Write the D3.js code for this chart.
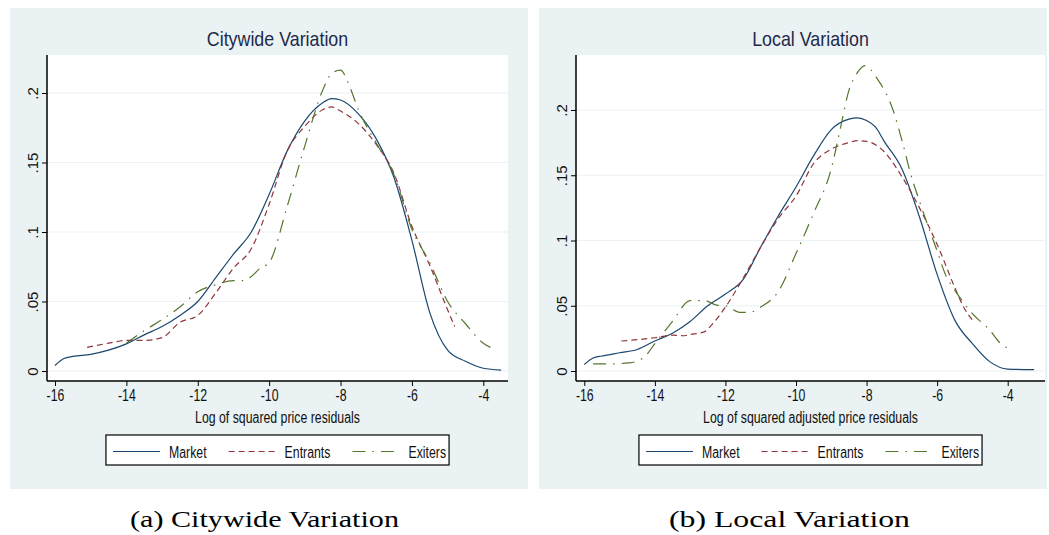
<!DOCTYPE html>
<html>
<head>
<meta charset="utf-8">
<script src="https://cdn.jsdelivr.net/npm/d3@7"></script>
<style>
  body { margin: 0; background: #fff; }
  svg { display: block; }
</style>
</head>
<body>
<div class="chart"></div>
<script>
var svgWidth = 1049;
var svgHeight = 535;

// ---- data ----
var seriesNames = ["Market", "Entrants", "Exiters"];
var xTicks = [-16, -14, -12, -10, -8, -6, -4];
var yTicks = [0, 0.05, 0.1, 0.15, 0.2];
var yTickLabels = ["0", ".05", ".1", ".15", ".2"];

var cityMarket = [[-16,0.004],[-15.75,0.009],[-15.5,0.0105],[-15,0.012],[-14.5,0.015],[-14,0.0195],[-13.5,0.026],[-13,0.032],[-12.5,0.040],[-12,0.050],[-11.5,0.067],[-11,0.084],[-10.5,0.100],[-10,0.127],[-9.5,0.158],[-9,0.180],[-8.5,0.193],[-8.25,0.196],[-8,0.195],[-7.5,0.185],[-7,0.167],[-6.5,0.139],[-6,0.094],[-5.5,0.042],[-5,0.015],[-4.5,0.007],[-4,0.002],[-3.5,0.0007]];
var cityEntrants = [[-15.1,0.017],[-14.5,0.020],[-14,0.022],[-13.5,0.022],[-13,0.024],[-12.5,0.035],[-12,0.040],[-11.5,0.056],[-11,0.074],[-10.5,0.088],[-10,0.120],[-9.5,0.158],[-9,0.176],[-8.5,0.188],[-8.25,0.190],[-8,0.187],[-7.5,0.178],[-7,0.163],[-6.5,0.142],[-6,0.104],[-5.5,0.076],[-5,0.044],[-4.8,0.032]];
var cityExiters = [[-14,0.020],[-13.5,0.029],[-13,0.037],[-12.5,0.046],[-12,0.057],[-11.5,0.062],[-11,0.065],[-10.75,0.065],[-10.5,0.068],[-10.25,0.074],[-10,0.078],[-9.5,0.118],[-9,0.162],[-8.5,0.202],[-8.25,0.214],[-8,0.2165],[-7.75,0.205],[-7.5,0.188],[-7,0.164],[-6.5,0.141],[-6,0.102],[-5.5,0.078],[-5,0.050],[-4.5,0.034],[-4,0.020],[-3.8,0.017]];

var localMarket = [[-16,0.005],[-15.75,0.010],[-15.5,0.0115],[-15,0.014],[-14.5,0.0165],[-14,0.023],[-13.5,0.029],[-13,0.038],[-12.5,0.050],[-12,0.059],[-11.5,0.070],[-11,0.095],[-10.5,0.119],[-10,0.141],[-9.5,0.165],[-9,0.185],[-8.5,0.193],[-8.25,0.194],[-8,0.192],[-7.75,0.187],[-7.5,0.176],[-7,0.155],[-6.5,0.118],[-6,0.074],[-5.5,0.039],[-5,0.021],[-4.5,0.007],[-4,0.0015],[-3.25,0.001]];
var localEntrants = [[-14.95,0.023],[-14.5,0.024],[-14,0.0255],[-13.5,0.0275],[-13.2,0.027],[-13,0.028],[-12.6,0.030],[-12.4,0.035],[-12,0.049],[-11.5,0.071],[-11,0.095],[-10.5,0.117],[-10,0.134],[-9.5,0.159],[-9,0.170],[-8.5,0.175],[-8.25,0.1765],[-8,0.176],[-7.5,0.168],[-7,0.149],[-6.5,0.125],[-6,0.097],[-5.5,0.064],[-5.25,0.049],[-5,0.039]];
var localExiters = [[-15.75,0.0055],[-15.25,0.0055],[-14.75,0.0062],[-14.5,0.0075],[-14.25,0.012],[-14,0.021],[-13.5,0.038],[-13,0.054],[-12.6,0.054],[-12.25,0.0505],[-12,0.050],[-11.6,0.045],[-11.3,0.045],[-11,0.049],[-10.5,0.061],[-10,0.090],[-9.5,0.121],[-9,0.155],[-8.75,0.185],[-8.5,0.215],[-8.25,0.229],[-8.05,0.234],[-7.7,0.224],[-7.25,0.200],[-7,0.177],[-6.75,0.151],[-6.5,0.130],[-6,0.092],[-5.75,0.073],[-5.5,0.062],[-5,0.044],[-4.5,0.031],[-4.2,0.021],[-4,0.0174]];

// line styles (Stata s2color)
var colors = ["#1a476f", "#90353b", "#55752f"];
var dashes = [null, "6,4", "13,7,1.5,7"];

var panels = [
  { title: "Citywide Variation", xTitle: "Log of squared price residuals",
    caption: "(a) Citywide Variation", captionX: 264.5, captionW: 269,
    bg: [10, 8, 518, 481], plot: [47, 55, 508, 381],
    xRange: [55, 483.3], yRange: [371, 93],
    series: [cityMarket, cityEntrants, cityExiters] },
  { title: "Local Variation", xTitle: "Log of squared adjusted price residuals",
    caption: "(b) Local Variation", captionX: 789.5, captionW: 241,
    bg: [539, 8, 508, 481], plot: [576, 55, 1045, 381],
    xRange: [584.3, 1007.7], yRange: [371, 110],
    series: [localMarket, localEntrants, localExiters] }
];

var sansFont = "'Liberation Sans', Arial, sans-serif";
var sx = 0.77; // Stata's fonts are narrow

var svg = d3.select(".chart")
  .append("svg")
  .attr("width", svgWidth)
  .attr("height", svgHeight);

panels.forEach(function(p) {
  var g = svg.append("g");
  var left = p.plot[0], top = p.plot[1], right = p.plot[2], bottom = p.plot[3];
  var cx = (left + right) / 2;

  // panel background and plot region
  g.append("rect")
    .attr("x", p.bg[0]).attr("y", p.bg[1])
    .attr("width", p.bg[2]).attr("height", p.bg[3])
    .attr("fill", "#eaf2f3");
  g.append("rect")
    .attr("x", left).attr("y", top)
    .attr("width", right - left).attr("height", bottom - top)
    .attr("fill", "#fff");

  var x = d3.scaleLinear().domain([-16, -4]).range(p.xRange);
  var y = d3.scaleLinear().domain([0, 0.2]).range(p.yRange);

  // gridlines
  g.selectAll(".grid")
    .data(yTicks)
    .enter()
    .append("line")
    .attr("x1", left).attr("x2", right)
    .attr("y1", d => y(d)).attr("y2", d => y(d))
    .attr("stroke", "#eaf2f3")
    .attr("stroke-width", 1.2);

  // curves
  var line = d3.line()
    .x(d => x(d[0]))
    .y(d => y(d[1]))
    .curve(d3.curveMonotoneX);

  p.series.forEach(function(s, i) {
    g.append("path")
      .datum(s)
      .attr("d", line)
      .attr("fill", "none")
      .attr("stroke", colors[i])
      .attr("stroke-width", 1.2)
      .attr("stroke-dasharray", dashes[i]);
  });

  // axes
  var bottomAxis = d3.axisBottom(x)
    .tickValues(xTicks)
    .tickSize(5)
    .tickPadding(4)
    .tickFormat(d => String(d));
  var xg = g.append("g")
    .attr("transform", `translate(0, ${bottom})`)
    .call(bottomAxis);
  xg.select(".domain").remove();
  xg.append("line")
    .attr("x1", left).attr("x2", right)
    .attr("stroke", "#000").attr("stroke-width", 1.5);
  xg.selectAll(".tick line").attr("stroke", "#000");
  xg.selectAll(".tick text")
    .attr("transform", `scale(${sx},1)`)
    .attr("font-family", sansFont)
    .attr("font-size", 16)
    .attr("fill", "#111");

  var leftAxis = d3.axisLeft(y)
    .tickValues(yTicks)
    .tickSize(5)
    .tickFormat((d, i) => yTickLabels[i]);
  var yg = g.append("g")
    .attr("transform", `translate(${left}, 0)`)
    .call(leftAxis);
  yg.select(".domain").remove();
  yg.append("line")
    .attr("y1", top).attr("y2", bottom)
    .attr("stroke", "#000").attr("stroke-width", 1.5);
  yg.selectAll(".tick line").attr("stroke", "#000");
  yg.selectAll(".tick text")
    .attr("transform", "rotate(-90)")
    .attr("x", 0).attr("y", -9.5).attr("dy", 0)
    .attr("text-anchor", "middle")
    .attr("font-family", sansFont)
    .attr("font-size", 15)
    .attr("fill", "#111");

  // titles
  g.append("text")
    .attr("transform", `translate(${cx}, 45.5) scale(0.85,1)`)
    .attr("text-anchor", "middle")
    .attr("font-family", sansFont)
    .attr("font-size", 21)
    .attr("fill", "#1e2a4a")
    .text(p.title);

  g.append("text")
    .attr("transform", `translate(${cx}, 423) scale(${sx},1)`)
    .attr("text-anchor", "middle")
    .attr("font-family", sansFont)
    .attr("font-size", 16)
    .attr("fill", "#111")
    .text(p.xTitle);

  // legend
  var lg = g.append("g");
  var sampleLen = 47, pos = 0, legY = 451.5;
  seriesNames.forEach(function(name, i) {
    if (i > 0) pos += 22;
    lg.append("line")
      .attr("x1", pos).attr("x2", pos + sampleLen)
      .attr("y1", legY).attr("y2", legY)
      .attr("stroke", colors[i])
      .attr("stroke-width", 1.2)
      .attr("stroke-dasharray", dashes[i]);
    pos += sampleLen + 9;
    var t = lg.append("text")
      .attr("transform", `translate(${pos}, 457.5) scale(${sx},1)`)
      .attr("font-family", sansFont)
      .attr("font-size", 16)
      .attr("fill", "#111")
      .text(name);
    pos += t.node().getComputedTextLength() * sx;
  });
  var boxW = pos + 7 + 3;
  var boxX = cx - boxW / 2;
  lg.attr("transform", `translate(${boxX + 7}, 0)`);
  lg.insert("rect", ":first-child")
    .attr("x", -7).attr("y", 435)
    .attr("width", boxW).attr("height", 30)
    .attr("fill", "#fff")
    .attr("stroke", "#000")
    .attr("stroke-width", 1.2);

  // sub-figure caption
  svg.append("text")
    .attr("x", p.captionX - p.captionW / 2)
    .attr("y", 526.5)
    .attr("textLength", p.captionW)
    .attr("lengthAdjust", "spacingAndGlyphs")
    .attr("font-family", "'Liberation Serif', 'DejaVu Serif', serif")
    .attr("font-size", 23)
    .attr("fill", "#000")
    .text(p.caption);
});
</script>
</body>
</html>
